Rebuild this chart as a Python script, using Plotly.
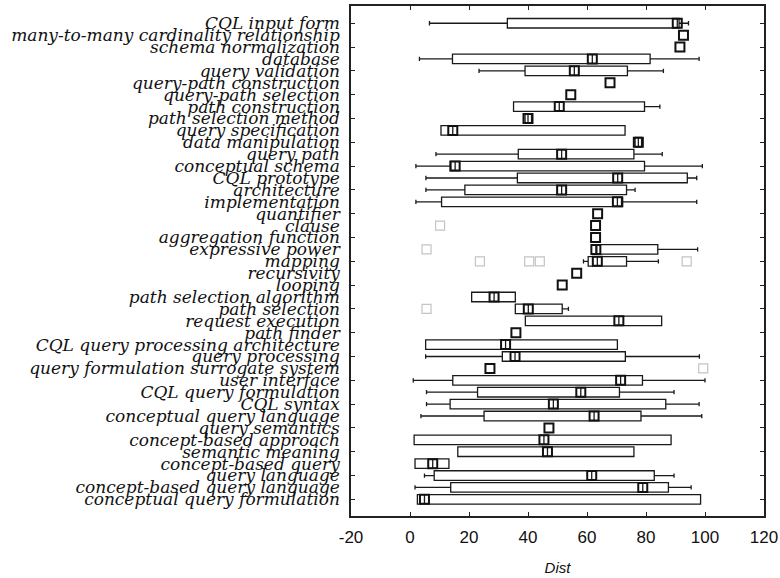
import plotly.graph_objects as go

categories = [
    "CQL input form", "many-to-many cardinality relationship", "schema normalization",
    "database", "query validation", "query-path construction", "query-path selection",
    "path construction", "path selection method", "query specification",
    "data manipulation", "query path", "conceptual schema", "CQL prototype",
    "architecture", "implementation", "quantifier", "clause", "aggregation function",
    "expressive power", "mapping", "recursivity", "looping", "path selection algorithm",
    "path selection", "request execution", "path finder",
    "CQL query processing architecture", "query processing",
    "query formulation surrogate system", "user interface", "CQL query formulation",
    "CQL syntax", "conceptual query language", "query semantics",
    "concept-based approach", "semantic meaning", "concept-based query",
    "query language", "concept-based query language", "conceptual query formulation",
]

# whisker low, box low (Q1), median, box high (Q3), whisker high; None = single value
lower  = [6.6, None, None, 3.2, 23.4, None, None, 35.1, 39.0, 10.5,
          76.3, 8.8, 2.0, 5.4, 5.4, 2.0, None, None, None, 63.0,
          58.8, None, None, 20.9, 35.7, 39.1, None, 5.3, 5.3, None,
          1.1, 5.6, 5.6, 3.7, None, 1.4, 16.2, 1.7, 4.9, 1.7, 2.5]
q1     = [33.0, None, None, 14.4, 39.0, None, None, 35.1, 39.0, 10.5,
          76.3, 36.7, 13.6, 36.4, 18.6, 10.7, None, None, None, 63.0,
          60.4, None, None, 20.9, 35.7, 39.1, None, 5.3, 31.3, None,
          14.5, 22.9, 13.6, 25.1, None, 1.4, 16.2, 1.7, 8.2, 13.8, 2.5]
median = [90.6, 92.7, 91.5, 61.8, 55.7, 67.8, 54.5, 50.6, 40.0, 14.5,
          77.4, 51.4, 15.3, 70.4, 51.4, 70.3, 63.6, 62.9, 62.9, 63.0,
          63.5, 56.5, 51.6, 28.5, 40.1, 70.8, 35.9, 32.4, 35.6, 27.1,
          71.4, 57.9, 48.6, 62.4, 47.1, 45.4, 46.6, 7.7, 61.6, 78.9, 4.9]
q3     = [91.2, None, None, 81.4, 73.7, None, None, 79.5, 41.2, 72.9,
          78.5, 75.9, 79.5, 94.0, 73.4, 72.1, None, None, None, 84.0,
          73.4, None, None, 35.7, 51.6, 85.3, None, 70.3, 73.0, None,
          78.8, 71.0, 86.7, 78.3, None, 88.5, 75.9, 13.2, 82.8, 87.6, 98.5]
upper  = [94.4, None, None, 98.0, 85.9, None, None, 84.7, 41.2, 72.9,
          78.5, 85.5, 99.1, 97.2, 76.3, 97.2, None, None, None, 97.5,
          84.2, None, None, 35.7, 53.7, 85.3, None, 70.3, 98.1, None,
          100.0, 89.5, 98.0, 98.9, None, 88.5, 75.9, 13.2, 89.5, 95.3, 98.5]

outlier_cat = ["clause", "expressive power", "mapping", "mapping", "mapping", "mapping",
               "path selection", "query formulation surrogate system"]
outlier_val = [10.2, 5.6, 23.7, 40.4, 44.0, 93.8, 5.6, 99.4]

x_ticks = [-20, 0, 20, 40, 60, 80, 100, 120]

box_idx = [i for i, v in enumerate(q1) if v is not None]

fig = go.Figure()

fig.add_trace(go.Box(
    orientation="h",
    y=[categories[i] for i in box_idx],
    q1=[q1[i] for i in box_idx],
    median=[median[i] for i in box_idx],
    q3=[q3[i] for i in box_idx],
    lowerfence=[lower[i] for i in box_idx],
    upperfence=[upper[i] for i in box_idx],
    fillcolor="white",
    line=dict(color="#1a1a1a", width=1.3),
    width=0.8,
    whiskerwidth=0.45,
    boxpoints=False,
    showlegend=False,
    hoverinfo="skip",
))

fig.add_trace(go.Scatter(
    x=outlier_val, y=outlier_cat, mode="markers",
    marker=dict(symbol="square-open", size=9, color="#c4c4c4", line=dict(width=1.2)),
    showlegend=False, hoverinfo="skip",
))

fig.add_trace(go.Scatter(
    x=median, y=categories, mode="markers",
    marker=dict(symbol="square-open", size=9, color="#111111", line=dict(width=2)),
    showlegend=False, hoverinfo="skip",
))

# invisible trace on the tick-only overlay axis
fig.add_trace(go.Scatter(
    x=[0] * len(categories), y=categories, yaxis="y2", mode="markers",
    marker=dict(opacity=0), showlegend=False, hoverinfo="skip",
))

n = len(categories)
yr = [n - 1 + 1.4, -1.45]

fig.update_layout(
    width=780, height=578,
    margin=dict(l=351, r=16, t=6, b=62, autoexpand=False),
    paper_bgcolor="white", plot_bgcolor="white",
    xaxis=dict(
        range=[-20, 120], tickmode="array", tickvals=x_ticks,
        ticktext=[str(v) for v in x_ticks], automargin=False,
        ticks="inside", ticklen=4, tickcolor="#222",
        showline=True, linecolor="#222", linewidth=1.5, mirror="ticks",
        showgrid=False, zeroline=False,
        tickfont=dict(family="Liberation Sans", size=17, color="#111"),
        ticklabelstandoff=5,
        title=dict(text="Dist", standoff=16,
                   font=dict(family="Liberation Sans", size=15, color="#111", style="italic")),
    ),
    yaxis=dict(
        type="category", categoryorder="array", categoryarray=categories,
        tickmode="array", tickvals=categories, ticktext=categories,
        automargin=False,
        range=yr, ticks="", showgrid=False, zeroline=False,
        showline=True, linecolor="#222", linewidth=1.5, mirror=True,
        tickfont=dict(family="DejaVu Serif", size=17, color="#111", style="italic"),
        ticklabelstandoff=6,
    ),
    yaxis2=dict(
        type="category", categoryorder="array", categoryarray=categories,
        overlaying="y", matches="y", range=yr, automargin=False,
        tickmode="linear", tick0=0, dtick=2,
        ticks="inside", ticklen=4, tickcolor="#222", mirror="ticks",
        showticklabels=False, showgrid=False, zeroline=False, showline=False,
    ),
)

fig.write_html("out.html", config={"displayModeBar": False},
               post_script="document.body.style.margin='0px';")
